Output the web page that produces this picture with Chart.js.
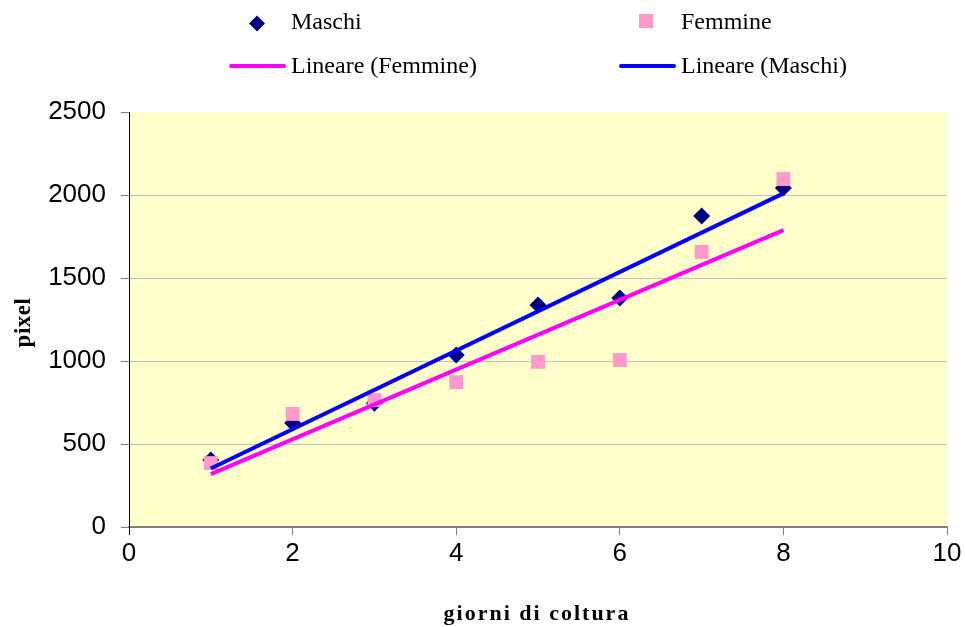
<!DOCTYPE html>
<html>
<head>
<meta charset="utf-8">
<script src="https://cdn.jsdelivr.net/npm/chart.js@4/dist/chart.umd.min.js"></script>
<style>
  html, body { margin: 0; padding: 0; background: #ffffff; }
  #wrap { width: 965px; height: 627px; position: relative; }
</style>
</head>
<body>
<div id="wrap"><canvas id="c" width="965" height="627"></canvas></div>
<script>
// Giorni di coltura e area misurata (pixel)
const days = [1, 2, 3, 4, 5, 6, 7, 8];
const maschi = [404, 627, 745, 1036, 1337, 1380, 1873, 2042];
const femmine = [385, 681, 765, 873, 995, 1006, 1657, 2096];

// Rette di tendenza lineare (estremi a 1 e 8 giorni)
const trendDays = [1, 8];
const trendMaschi = [352, 2010];
const trendFemmine = [318, 1788];

// Assi
const xTicks = [0, 2, 4, 6, 8, 10];
const yTicks = [0, 500, 1000, 1500, 2000, 2500];

const labels = {
  maschi: 'Maschi',
  femmine: 'Femmine',
  trendF: 'Lineare (Femmine)',
  trendM: 'Lineare (Maschi)',
  xTitle: 'giorni di coltura',
  yTitle: 'pixel'
};

const toPoints = (xs, ys) => xs.map((x, i) => ({ x: x, y: ys[i] }));

const NAVY = '#000080', PINK = '#FF99CC', MAGENTA = '#FF00FF', BLUE = '#0000FF';
const SANS = '"Liberation Sans", Arial, sans-serif';
const SERIF = '"Liberation Serif", "Times New Roman", serif';

// Sfondo dell'area del grafico
const plotBackground = {
  id: 'plotBackground',
  beforeDraw(chart) {
    const { ctx, chartArea: a } = chart;
    ctx.save();
    ctx.fillStyle = '#FFFFCC';
    ctx.fillRect(a.left, a.top, a.right - a.left, a.bottom - a.top);
    ctx.restore();
  }
};

// Legenda su due colonne e titoli degli assi
const legendAndTitles = {
  id: 'legendAndTitles',
  afterDraw(chart) {
    const { ctx, chartArea: a } = chart;
    ctx.save();
    ctx.font = '24px ' + SERIF;
    ctx.fillStyle = '#000';
    ctx.textBaseline = 'alphabetic';
    ctx.textAlign = 'left';

    // Maschi: rombo
    ctx.fillStyle = NAVY;
    ctx.beginPath();
    ctx.moveTo(257, 15.5); ctx.lineTo(265, 23.5); ctx.lineTo(257, 31.5); ctx.lineTo(249, 23.5);
    ctx.closePath(); ctx.fill();
    ctx.fillStyle = '#000';
    ctx.fillText(labels.maschi, 291, 29);

    // Femmine: quadrato
    ctx.fillStyle = PINK;
    ctx.fillRect(639, 14, 14, 14);
    ctx.fillStyle = '#000';
    ctx.fillText(labels.femmine, 681, 29);

    // Rette di tendenza
    ctx.lineWidth = 4;
    ctx.lineCap = 'round';
    ctx.strokeStyle = MAGENTA;
    ctx.beginPath(); ctx.moveTo(231, 66); ctx.lineTo(284, 66); ctx.stroke();
    ctx.fillText(labels.trendF, 291, 73);
    ctx.strokeStyle = BLUE;
    ctx.beginPath(); ctx.moveTo(621, 66); ctx.lineTo(674, 66); ctx.stroke();
    ctx.fillText(labels.trendM, 681, 73);

    // Titoli degli assi
    ctx.font = 'bold 22px ' + SERIF;
    ctx.textAlign = 'center';
    if ('letterSpacing' in ctx) ctx.letterSpacing = '2px';
    ctx.fillText(labels.xTitle, (a.left + a.right) / 2 - 1, 620);
    if ('letterSpacing' in ctx) ctx.letterSpacing = '0.5px';
    ctx.font = 'bold 23px ' + SERIF;
    ctx.translate(30, (a.top + a.bottom) / 2 + 3);
    ctx.rotate(-Math.PI / 2);
    ctx.fillText(labels.yTitle, 0, 0);
    ctx.restore();
  }
};

new Chart(document.getElementById('c'), {
  type: 'scatter',
  data: {
    datasets: [
      {
        label: labels.trendM,
        data: toPoints(trendDays, trendMaschi),
        showLine: true,
        borderColor: BLUE,
        borderWidth: 4,
        pointRadius: 0,
        order: 0
      },
      {
        label: labels.trendF,
        data: toPoints(trendDays, trendFemmine),
        showLine: true,
        borderColor: MAGENTA,
        borderWidth: 4,
        pointRadius: 0,
        order: 1
      },
      {
        label: labels.femmine,
        data: toPoints(days, femmine),
        pointStyle: 'rect',
        pointRadius: 9.8,
        pointBackgroundColor: PINK,
        pointBorderWidth: 0,
        order: 2
      },
      {
        label: labels.maschi,
        data: toPoints(days, maschi),
        pointStyle: 'rectRot',
        pointRadius: 8.5,
        pointBackgroundColor: NAVY,
        pointBorderWidth: 0,
        order: 3
      }
    ]
  },
  options: {
    responsive: false,
    animation: false,
    events: [],
    layout: { padding: { left: 0, top: 112, right: 18, bottom: 0 } },
    plugins: { legend: { display: false }, tooltip: { enabled: false } },
    scales: {
      x: {
        type: 'linear',
        min: xTicks[0],
        max: xTicks[xTicks.length - 1],
        afterFit(s) { s.height = 100; },
        afterBuildTicks(s) { s.ticks = xTicks.map(v => ({ value: v })); },
        ticks: {
          color: '#000',
          font: { family: SANS, size: 26 },
          padding: 3,
          maxRotation: 0,
          callback: (v) => String(v)
        },
        grid: {
          drawOnChartArea: false,
          drawTicks: true,
          tickLength: 8,
          tickWidth: 1,
          tickColor: (c) => (c.tick && c.tick.value === 0 ? '#000' : '#808080')
        },
        border: { color: '#808080', width: 2 }
      },
      y: {
        type: 'linear',
        min: yTicks[0],
        max: yTicks[yTicks.length - 1],
        afterFit(s) { s.width = 129; },
        afterBuildTicks(s) { s.ticks = yTicks.map(v => ({ value: v })); },
        ticks: {
          color: '#000',
          font: { family: SANS, size: 26 },
          padding: 15,
          callback: (v) => String(v)
        },
        grid: {
          color: (c) => (c.tick && (c.tick.value === 2500 || c.tick.value === 0) ? 'rgba(0,0,0,0)' : '#C0C0C0'),
          lineWidth: 1,
          drawTicks: true,
          tickLength: 8,
          tickColor: '#808080'
        },
        border: { color: '#000', width: 1 }
      }
    }
  },
  plugins: [plotBackground, legendAndTitles]
});
</script>
</body>
</html>
